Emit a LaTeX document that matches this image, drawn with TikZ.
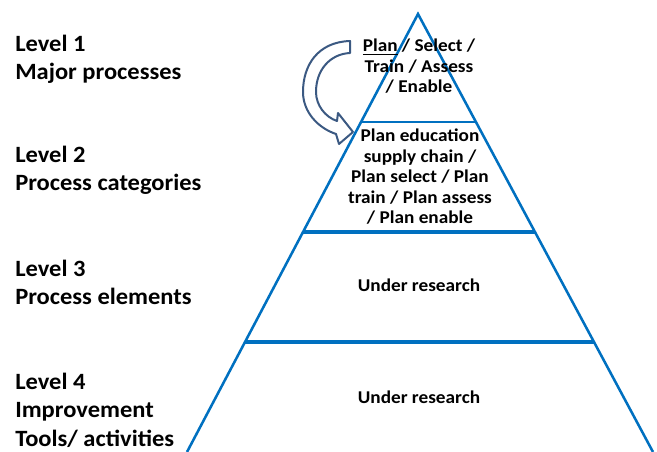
\documentclass[tikz,border=0pt]{standalone}
\usepackage{fontspec}
\setmainfont{Carlito}
\newfontfamily\labelfont[FakeStretch=1.05]{Carlito}
\newfontfamily\tierfont[FakeStretch=1.07]{Carlito}
\usepackage{tikz}
\tikzset{>=latex}
\usetikzlibrary{calc}
\definecolor{pyrblue}{RGB}{0,112,192}
\definecolor{arrowblue}{RGB}{59,89,130}
\tikzset{
  levellabel/.style={anchor=north west, inner sep=0pt, align=left, font=\labelfont\fontsize{17.5}{21.2}\selectfont\bfseries},
  tiertext/.style={inner sep=0pt, align=center, font=\tierfont\fontsize{13.5}{15.3}\selectfont\bfseries},
  side/.style={pyrblue, line width=1.9pt},
  divider/.style={pyrblue, line width=3pt},
}

\begin{document}
\begin{tikzpicture}[x=0.75pt, y=-0.75pt]
 \useasboundingbox (0,0) rectangle (657,452);

 % Pyramid outline
 \coordinate (apex) at (418,14);
 \coordinate (baseL) at (187,452);
 \coordinate (baseR) at (653,452);
 \draw[side, line join=miter] (baseL) -- (apex) -- (baseR);

 % Dividers
 \draw[side] ($(apex)!0.2466!(baseL)$) -- ($(apex)!0.2466!(baseR)$);
 \foreach \lvl in {0.4977, 0.7489}{
    \draw[divider] ($(apex)!\lvl!(baseL)$) -- ($(apex)!\lvl!(baseR)$);
 }

 % Curved arrow
 \draw[arrowblue, fill=white, line width=1.5pt, line join=round]
   (350,41) .. controls (318,42) and (303,65) .. (303,92)
   .. controls (303,112) and (318,128) .. (336,134)
   -- (339,144) -- (353,132) -- (338,113) -- (337,121)
   .. controls (325,117) and (316,105) .. (316,92)
   .. controls (316,70) and (330,54) .. (350,53) -- cycle;

 % Level labels
 \node[levellabel] (level1) at (15,35) {Level 1\\Major processes};
 \node[levellabel] (level2) at (15,146) {Level 2\\Process categories};
 \node[levellabel] (level3) at (15,260) {Level 3\\Process elements};
 \node[levellabel] (level4) at (15,373) {Level 4\\Improvement\\Tools/ activities};

 % Tier texts
 \node[tiertext, anchor=north] (tier1) at (419,39) {\underline{Plan} / Select /\\Train / Assess\\/ Enable};
 \node[tiertext, anchor=north] (tier2) at (420,129) {Plan education\\supply chain /\\Plan select / Plan\\train / Plan assess\\/ Plan enable};
 \node[tiertext, anchor=base] (tier3) at (419,292) {Under research};
 \node[tiertext, anchor=base] (tier4) at (419,403) {Under research};

\end{tikzpicture}
\end{document}
